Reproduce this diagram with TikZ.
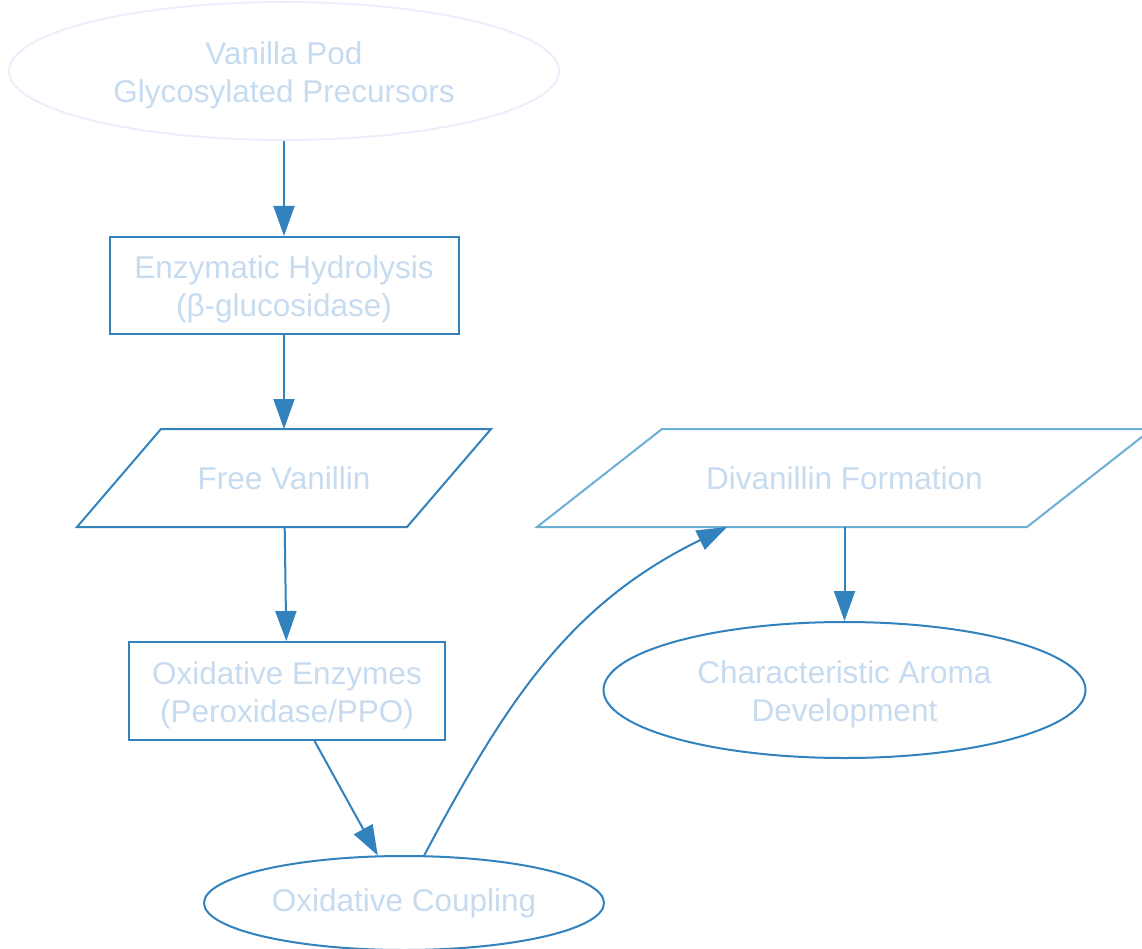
\documentclass[tikz,border=0pt]{standalone}
\usepackage{fontspec}
\setmainfont{Liberation Sans}
\usetikzlibrary{shapes.geometric,arrows.meta}
\definecolor{lineblue}{HTML}{3182BD}
\definecolor{paleblue}{HTML}{6BAED6}
\definecolor{textblue}{HTML}{C6DBEF}
\definecolor{podline}{HTML}{EBEFFB}
\tikzset{every node/.style={align=center, text=textblue}, >={Triangle[length=30pt,width=21pt]},
  font=\fontsize{31.5}{38}\selectfont,
  oval/.style={ellipse, draw=lineblue, inner sep=0pt},
  box/.style={rectangle, draw=lineblue, inner sep=0pt},
  slant/.style={rectangle, inner sep=0pt, minimum height=96pt},
  twolines/.style={text height=69pt}}

\begin{document}
\begin{tikzpicture}[node distance=200pt, line width=2pt]
            \useasboundingbox (0pt,0pt) rectangle (1142pt,-949pt);
            \node [oval,twolines,draw=podline,minimum width=550pt,minimum height=138pt] (pod) at (284pt,-71pt) {Vanilla Pod\\Glycosylated Precursors};
            \node [box,twolines,minimum width=349pt,minimum height=97pt] (hyd) [below of = pod,node distance=214.5pt] {Enzymatic Hydrolysis\\(β-glucosidase)};
            \node [slant,minimum width=412pt] (free) [below of = hyd,node distance=192.5pt] {Free Vanillin};
            \node [box,twolines,minimum width=316pt,minimum height=98pt] (enz) at (287pt,-691pt) {Oxidative Enzymes\\(Peroxidase/PPO)};
            \node [oval,minimum width=400pt,minimum height=94pt] (coup) at (404pt,-903pt) {Oxidative Coupling};
            \node [slant,minimum width=613pt] (div) [right of = free,node distance=560.5pt] {Divanillin Formation};
            \node [oval,twolines,minimum width=482pt,minimum height=136pt] (aroma) [below of = div,node distance=212pt] {Characteristic Aroma\\Development};

            % slanted outlines
            \draw [lineblue] (free.south west) -- ([xshift=84pt]free.north west) -- (free.north east) -- ([xshift=-84pt]free.south east) -- cycle;
            \draw [paleblue] (div.south west) -- ([xshift=125pt]div.north west) -- (div.north east) -- ([xshift=-125pt]div.south east) -- cycle;

            \path[->,lineblue] (pod) edge (hyd)
                (hyd) edge (free)
                (free) edge (enz)
                (enz) edge (coup)
                (coup.67) edge [out=62,in=206] ([xshift=-117.5pt]div.south)
                (div) edge (aroma);

        \end{tikzpicture}
\end{document}
